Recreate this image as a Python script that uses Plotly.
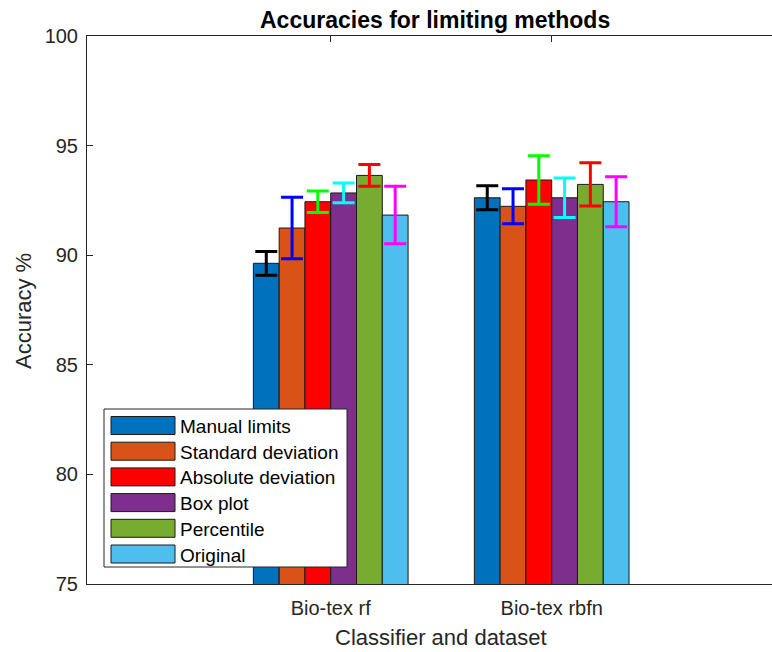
import plotly.graph_objects as go

# Classifier / dataset combinations on the x axis
datasets = ["Bio-tex rf", "Bio-tex rbfn"]

# Limiting methods (one bar series each)
methods = ["Manual limits", "Standard deviation", "Absolute deviation",
           "Box plot", "Percentile", "Original"]

# Mean accuracy (%) per method, for each dataset
manual_limits = [89.63, 92.62]
standard_dev = [91.24, 92.23]
absolute_dev = [92.44, 93.43]
box_plot = [92.84, 92.62]
percentile = [93.64, 93.23]
original = [91.83, 92.44]

# Spread (+/-) of accuracy per method, for each dataset
manual_limits_err = [0.54, 0.55]
standard_dev_err = [1.40, 0.80]
absolute_dev_err = [0.49, 1.11]
box_plot_err = [0.45, 0.90]
percentile_err = [0.50, 0.99]
original_err = [1.31, 1.14]

y_ticks = [75, 80, 85, 90, 95, 100]

means = [manual_limits, standard_dev, absolute_dev, box_plot, percentile, original]
errs = [manual_limits_err, standard_dev_err, absolute_dev_err,
        box_plot_err, percentile_err, original_err]

bar_colors = ["#0072BD", "#D95319", "#FF0000", "#7E2F8E", "#77AC30", "#4DBEEE"]
err_colors = ["#000000", "#0000FF", "#00FF00", "#00FFFF", "#FF0000", "#FF00FF"]

FONT = "Liberation Sans, Arial, Helvetica, sans-serif"
W, H = 772, 652
ML, MT, MB = 87, 36, 68
PW, PH = W - ML, H - MT - MB


def px_x(x):
    """Pixel column -> paper x."""
    return (x - ML) / PW


def px_y(y):
    """Pixel row -> paper y."""
    return (H - MB - y) / PH


fig = go.Figure()
for name, m, e, bc, ec in zip(methods, means, errs, bar_colors, err_colors):
    fig.add_trace(go.Bar(
        name=name, x=datasets, y=m,
        marker=dict(color=bc, line=dict(color="#1a1a1a", width=1)),
        error_y=dict(type="data", array=e, visible=True,
                     color=ec, thickness=3, width=11),
    ))

fig.update_layout(
    width=W, height=H,
    margin=dict(l=ML, r=0, t=MT, b=MB),
    paper_bgcolor="white", plot_bgcolor="white",
    barmode="group", bargap=0.3, bargroupgap=0,
    font=dict(family=FONT, size=20, color="#262626"),
    showlegend=False,
)

fig.update_xaxes(
    type="category", range=[-1.103, 1.997],
    showline=True, linecolor="#262626", linewidth=1, mirror="ticks",
    ticks="inside", ticklen=6, tickcolor="#262626",
    tickfont=dict(size=20, color="#262626"), ticklabelstandoff=6,
    showgrid=False, zeroline=False,
)
fig.update_yaxes(
    range=[75, 100], tickvals=y_ticks,
    showline=True, linecolor="#262626", linewidth=1,
    ticks="inside", ticklen=6, tickcolor="#262626",
    tickfont=dict(size=20, color="#262626"), ticklabelstandoff=4,
    showgrid=False, zeroline=False,
)

# Title and axis labels centred over the full axes box
fig.add_annotation(text="<b>Accuracies for limiting methods</b>",
                   xref="paper", yref="paper", x=px_x(435), y=px_y(20),
                   xanchor="center", yanchor="middle", showarrow=False,
                   font=dict(family=FONT, size=23, color="#000000"))
fig.add_annotation(text="Classifier and dataset",
                   xref="paper", yref="paper", x=px_x(441), y=px_y(651),
                   xanchor="center", yanchor="bottom", showarrow=False,
                   borderpad=0,
                   font=dict(family=FONT, size=22, color="#262626"))
fig.add_annotation(text="Accuracy %", textangle=-90,
                   xref="paper", yref="paper", x=px_x(23), y=px_y(311),
                   xanchor="center", yanchor="middle", showarrow=False,
                   font=dict(family=FONT, size=22, color="#262626"))

# Legend box with wide colour swatches, bottom-left inside the axes
box_l, box_r, box_t, box_b = 104, 347, 409, 567
fig.add_shape(type="rect", xref="paper", yref="paper",
              x0=px_x(box_l), x1=px_x(box_r), y0=px_y(box_b), y1=px_y(box_t),
              fillcolor="white", line=dict(color="#262626", width=1), layer="above")
row_h = 25.7
for i, (name, bc) in enumerate(zip(methods, bar_colors)):
    cy = box_t + 16.5 + i * row_h
    fig.add_shape(type="rect", xref="paper", yref="paper",
                  x0=px_x(111), x1=px_x(175), y0=px_y(cy + 9), y1=px_y(cy - 9),
                  fillcolor=bc, line=dict(color="#1a1a1a", width=1), layer="above")
    fig.add_annotation(text=name, xref="paper", yref="paper",
                       x=px_x(178), y=px_y(cy + 1),
                       xanchor="left", yanchor="middle", showarrow=False,
                       font=dict(family=FONT, size=19, color="#000000"))

fig.write_html("out.html")
